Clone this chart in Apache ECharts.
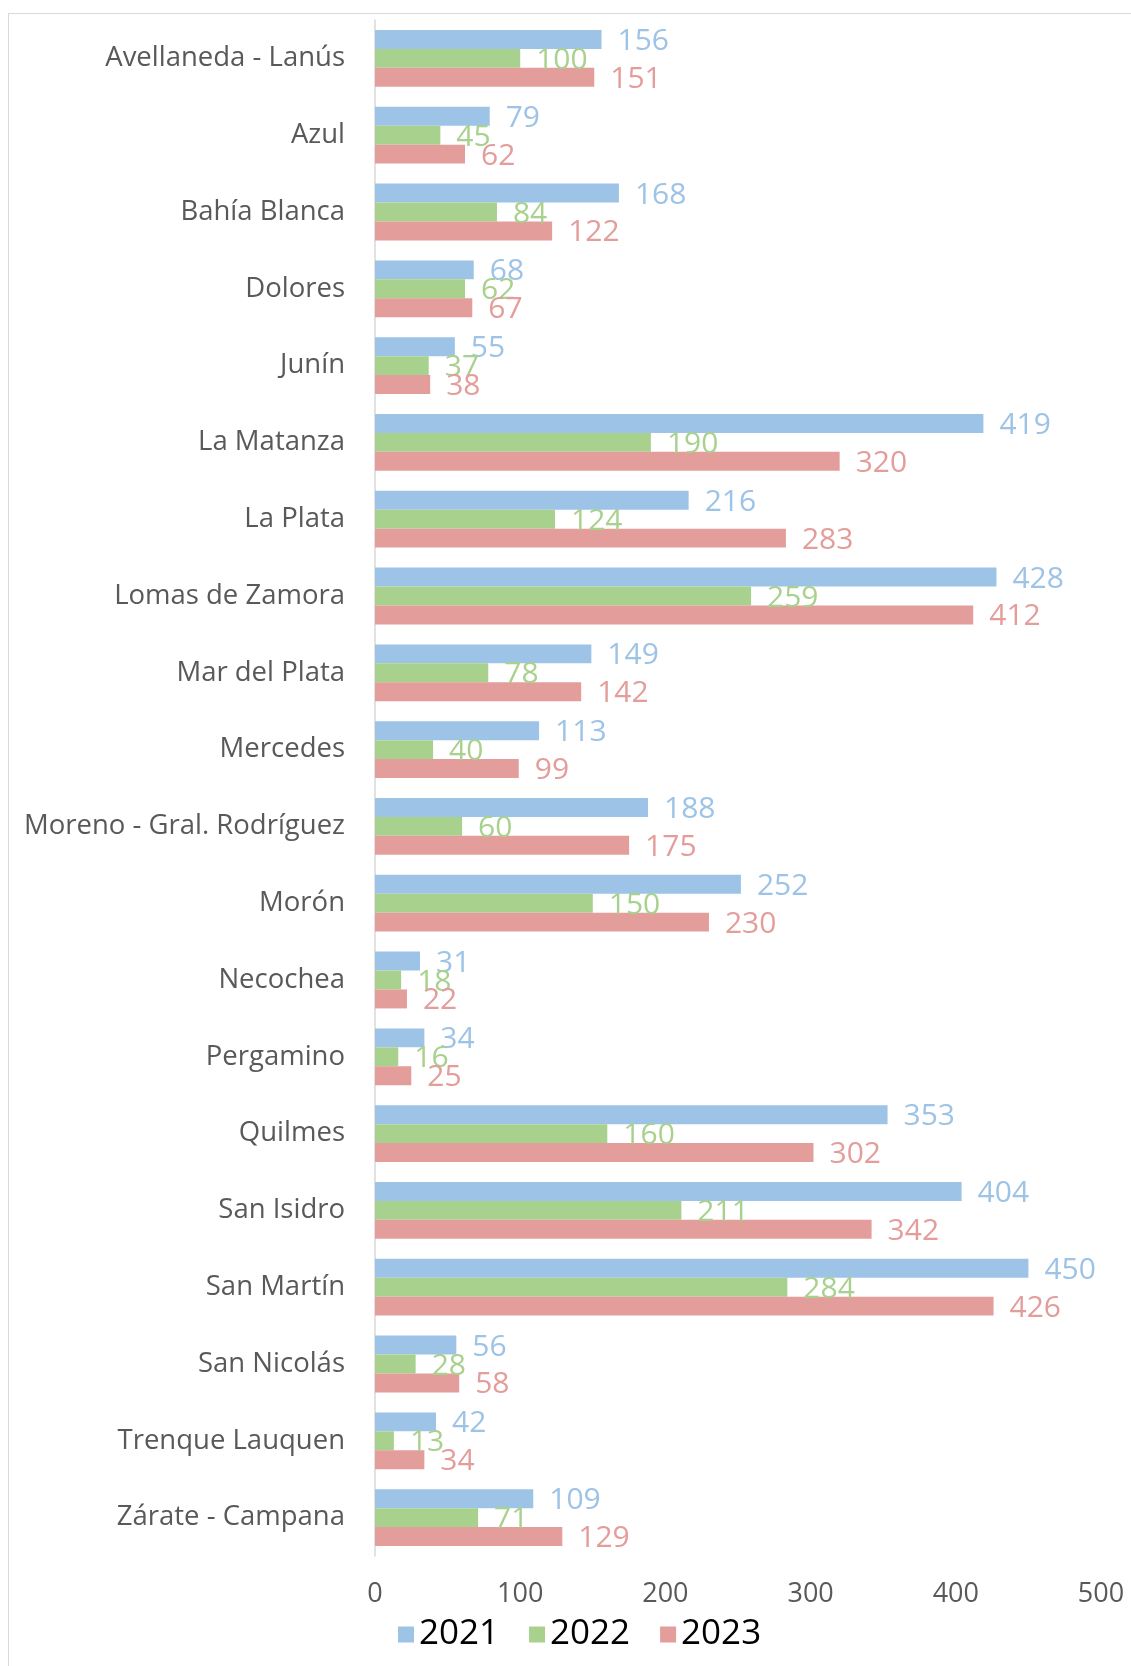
<!DOCTYPE html>
<html>
<head>
<meta charset="utf-8">
<script src="https://cdn.jsdelivr.net/npm/echarts@6/dist/echarts.min.js"></script>
<style>
  html, body { margin: 0; padding: 0; background: #fff; overflow: hidden; }
  #frame { position: absolute; left: 8px; top: 13px; width: 1200px; height: 1700px; border: 1px solid #d9d9d9; }
  #chart { position: absolute; left: 0; top: 0; width: 1131px; height: 1666px; }
</style>
</head>
<body>
<div id="frame"></div>
<div id="chart"></div>
<script>
const categories = ['Avellaneda - Lanús', 'Azul', 'Bahía Blanca', 'Dolores', 'Junín', 'La Matanza', 'La Plata',
  'Lomas de Zamora', 'Mar del Plata', 'Mercedes', 'Moreno - Gral. Rodríguez', 'Morón', 'Necochea', 'Pergamino',
  'Quilmes', 'San Isidro', 'San Martín', 'San Nicolás', 'Trenque Lauquen', 'Zárate - Campana'];
const values2021 = [156, 79, 168, 68, 55, 419, 216, 428, 149, 113, 188, 252, 31, 34, 353, 404, 450, 56, 42, 109];
const values2022 = [100, 45, 84, 62, 37, 190, 124, 259, 78, 40, 60, 150, 18, 16, 160, 211, 284, 28, 13, 71];
const values2023 = [151, 62, 122, 67, 38, 320, 283, 412, 142, 99, 175, 230, 22, 25, 302, 342, 426, 58, 34, 129];
const years = ['2021', '2022', '2023'];
const xTicks = { min: 0, max: 500, interval: 100 };

const colors = ['#9DC3E6', '#A9D18E', '#E39D9A'];
const font = '"Open Sans", "Noto Sans", sans-serif';

const chart = echarts.init(document.getElementById('chart'));

const makeSeries = (name, data, color) => ({
  name: name,
  type: 'bar',
  data: data,
  barGap: '0%',
  barCategoryGap: '26%',
  itemStyle: { color: color },
  label: {
    show: true,
    position: 'right',
    distance: 16,
    offset: [0, 2],
    color: color,
    fontFamily: font,
    fontSize: 30
  }
});

const option = {
  backgroundColor: 'transparent',
  animation: false,
  textStyle: { fontFamily: font },
  legend: {
    data: years,
    left: 393,
    top: 1612,
    itemWidth: 16,
    itemHeight: 16,
    itemGap: 30,
    icon: 'rect',
    textStyle: { color: '#000', fontSize: 35, fontFamily: font }
  },
  grid: { left: 375, right: 30, top: 20, height: 1536 },
  xAxis: {
    type: 'value',
    min: xTicks.min,
    max: xTicks.max,
    interval: xTicks.interval,
    axisLine: { show: false },
    axisTick: { show: false },
    splitLine: { show: false },
    axisLabel: { color: '#595959', fontSize: 27, margin: 25, fontFamily: font }
  },
  yAxis: {
    type: 'category',
    data: categories,
    inverse: true,
    axisLine: { show: true, lineStyle: { color: '#d9d9d9', width: 1.5 } },
    axisTick: { show: false },
    axisLabel: { color: '#595959', fontSize: 27.5, margin: 30, fontFamily: font }
  },
  series: [
    makeSeries(years[0], values2021, colors[0]),
    makeSeries(years[1], values2022, colors[1]),
    makeSeries(years[2], values2023, colors[2])
  ]
};

chart.setOption(option);
</script>
</body>
</html>
